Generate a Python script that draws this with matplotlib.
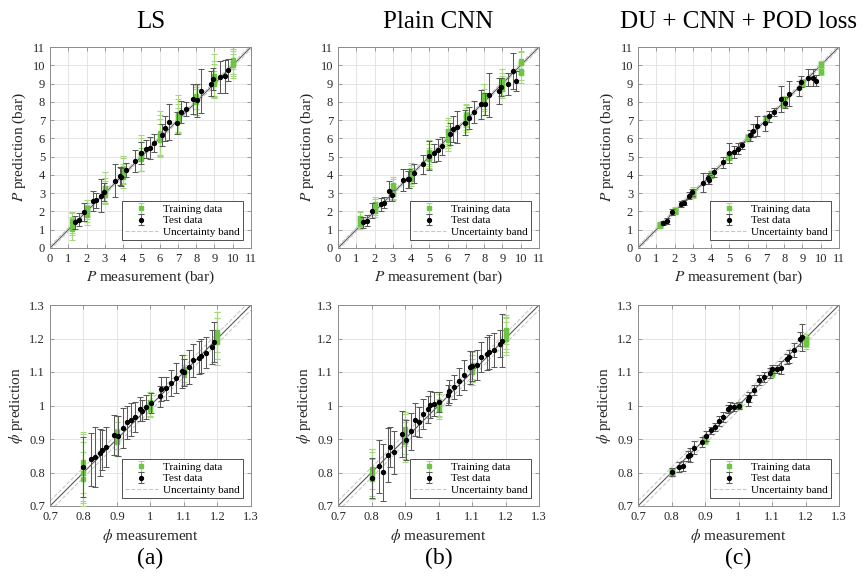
import numpy as np
import matplotlib.pyplot as plt
from matplotlib.ticker import FormatStrFormatter
from matplotlib.lines import Line2D

plt.rcParams["font.family"] = "serif"
plt.rcParams["font.serif"] = ["Liberation Serif", "DejaVu Serif"]
plt.rcParams["mathtext.fontset"] = "stix"

TITLES = ["LS", "Plain CNN", "DU + CNN + POD loss"]
TAGS = ["(a)", "(b)", "(c)"]

# ---------------- pressure P (bar) ----------------
P_TEST_X = [1.35, 1.58, 1.85, 2.33, 2.54, 2.77, 2.98, 3.53, 3.85, 3.91,
            4.15, 4.66, 4.98, 5.27, 5.47, 5.67, 6.15, 6.30, 6.51, 6.97,
            7.18, 7.47, 7.84, 8.04, 8.27, 8.80, 8.92, 9.33, 9.55, 9.75]

P_TEST_Y_LS = [1.40, 1.55, 1.98, 2.58, 2.60, 2.85, 3.05, 3.69, 3.96, 3.87,
               4.27, 4.78, 5.18, 5.42, 5.49, 5.73, 6.18, 6.55, 6.89, 6.82,
               7.44, 7.60, 8.15, 8.09, 8.58, 9.00, 9.24, 9.36, 9.40, 9.73]
P_TEST_E_LS = [0.35, 0.35, 0.50, 0.56, 0.40, 0.90, 0.50, 0.90, 0.50, 0.50,
               0.40, 0.60, 0.60, 0.50, 0.60, 0.50, 0.60, 0.70, 1.00, 0.60,
               0.60, 0.40, 0.80, 0.90, 1.20, 0.70, 0.60, 0.90, 0.90, 0.60]

P_TEST_Y_CNN = [1.41, 1.50, 2.05, 2.39, 2.47, 3.14, 2.89, 3.73, 3.75, 3.80,
                4.08, 4.57, 5.06, 5.21, 5.37, 5.58, 6.22, 6.51, 6.62, 6.86,
                7.09, 7.46, 7.86, 7.90, 8.39, 8.59, 8.81, 8.96, 9.69, 9.14]
P_TEST_E_CNN = [0.30, 0.30, 0.40, 0.35, 0.30, 0.55, 0.30, 0.60, 0.45, 0.50,
                0.50, 0.50, 0.80, 0.50, 0.60, 0.50, 0.60, 0.70, 0.90, 0.70,
                0.60, 0.60, 0.80, 0.60, 1.20, 0.70, 0.50, 0.60, 1.00, 0.55]

P_TEST_Y_POD = [1.36, 1.49, 1.98, 2.42, 2.49, 2.87, 3.04, 3.58, 3.82, 3.73,
                4.15, 4.69, 5.18, 5.25, 5.42, 5.62, 6.16, 6.42, 6.67, 6.82,
                7.22, 7.45, 8.15, 7.96, 8.45, 8.73, 9.09, 9.33, 9.33, 9.15]
P_TEST_E_POD = [0.12, 0.15, 0.15, 0.15, 0.15, 0.20, 0.20, 0.50, 0.30, 0.25,
                0.25, 0.30, 0.55, 0.35, 0.30, 0.20, 0.30, 0.35, 0.55, 0.40,
                0.30, 0.20, 0.70, 0.30, 0.70, 0.40, 0.30, 0.45, 0.45, 0.30]

P_TRAIN_X = [1.2, 2, 3, 4, 5, 6, 7, 8, 9, 10]

P_TRAIN_Y_LS = [[1.05, 1.20, 1.35, 1.50], [1.80, 1.95, 2.10, 2.20],
                [2.90, 3.05, 3.15, 3.30], [3.90, 4.05, 4.20, 4.30],
                [4.85, 5.00, 5.10, 5.20], [5.90, 6.05, 6.20, 6.30],
                [6.95, 7.10, 7.25, 7.35], [8.00, 8.10, 8.20, 8.30],
                [9.00, 9.15, 9.25, 9.40], [10.00, 10.10, 10.20, 10.30]]
P_TRAIN_E_LS = [[0.60, 0.50, 0.55, 0.45], [0.55, 0.50, 0.50, 0.45],
                [0.50, 0.60, 0.70, 0.85], [0.60, 0.55, 0.70, 0.75],
                [0.65, 0.80, 0.90, 1.00], [0.90, 1.00, 1.10, 1.20],
                [0.70, 0.80, 0.90, 1.00], [0.70, 0.80, 0.60, 0.70],
                [0.70, 0.90, 1.00, 1.20], [0.60, 0.80, 0.70, 0.50]]

P_TRAIN_Y_CNN = [[1.30, 1.45, 1.60, 1.65], [2.00, 2.15, 2.30, 2.40],
                 [2.95, 3.10, 3.30, 3.45], [3.80, 3.95, 4.05, 4.15],
                 [4.85, 4.95, 5.10, 5.25], [5.90, 6.10, 6.30, 6.40],
                 [6.90, 7.05, 7.20, 7.30], [7.90, 8.10, 8.30, 8.40],
                 [8.70, 8.85, 9.00, 9.20], [9.55, 9.70, 10.10, 10.25]]
P_TRAIN_E_CNN = [[0.25, 0.30, 0.35, 0.40], [0.30, 0.35, 0.40, 0.40],
                 [0.35, 0.40, 0.45, 0.45], [0.40, 0.45, 0.50, 0.50],
                 [0.50, 0.55, 0.60, 0.65], [0.60, 0.60, 0.70, 0.70],
                 [0.55, 0.60, 0.60, 0.60], [0.60, 0.60, 0.70, 0.60],
                 [0.50, 0.55, 0.60, 0.60], [0.50, 0.50, 0.60, 0.55]]

P_TRAIN_Y_POD = [[1.20, 1.25, 1.28, 1.32], [1.95, 2.00, 2.05, 2.08],
                 [2.90, 2.98, 3.05, 3.12], [3.95, 4.00, 4.05, 4.08],
                 [4.95, 5.00, 5.05, 5.10], [5.95, 6.00, 6.05, 6.10],
                 [6.98, 7.03, 7.08, 7.12], [7.85, 7.95, 8.05, 8.10],
                 [8.95, 9.00, 9.05, 9.10], [9.65, 9.70, 10.00, 10.08]]
P_TRAIN_E_POD = [[0.08, 0.10, 0.10, 0.12], [0.10, 0.12, 0.12, 0.15],
                 [0.15, 0.20, 0.20, 0.20], [0.10, 0.12, 0.15, 0.15],
                 [0.12, 0.15, 0.15, 0.15], [0.12, 0.15, 0.15, 0.15],
                 [0.10, 0.12, 0.15, 0.15], [0.15, 0.20, 0.20, 0.20],
                 [0.12, 0.15, 0.15, 0.15], [0.20, 0.20, 0.15, 0.15]]

P_TICKS = list(range(0, 12))
P_BAND = 0.1

# ---------------- equivalence ratio phi ----------------
F_TEST_X = [0.800, 0.821, 0.834, 0.849, 0.855, 0.868, 0.891, 0.902, 0.917, 0.930,
            0.942, 0.953, 0.970, 0.975, 0.988, 1.002, 1.027, 1.032, 1.046, 1.061,
            1.076, 1.094, 1.101, 1.114, 1.127, 1.144, 1.151, 1.166, 1.185, 1.191]

F_TEST_Y_LS = [0.816, 0.839, 0.846, 0.859, 0.866, 0.877, 0.913, 0.910, 0.933, 0.950,
               0.958, 0.966, 0.990, 0.985, 0.995, 1.008, 1.027, 1.049, 1.051, 1.067,
               1.082, 1.102, 1.099, 1.115, 1.135, 1.143, 1.148, 1.158, 1.174, 1.189]
F_TEST_E_LS = [0.090, 0.080, 0.090, 0.070, 0.060, 0.060, 0.060, 0.060, 0.060, 0.050,
               0.050, 0.045, 0.035, 0.030, 0.035, 0.030, 0.030, 0.035, 0.035, 0.040,
               0.045, 0.050, 0.040, 0.050, 0.050, 0.050, 0.050, 0.045, 0.050, 0.060]

F_TEST_Y_CNN = [0.783, 0.818, 0.801, 0.853, 0.875, 0.860, 0.915, 0.896, 0.923, 0.958,
                0.952, 0.974, 0.989, 1.002, 1.005, 1.011, 1.031, 1.042, 1.055, 1.072,
                1.091, 1.114, 1.117, 1.122, 1.146, 1.155, 1.160, 1.165, 1.185, 1.194]
F_TEST_E_CNN = [0.060, 0.080, 0.085, 0.080, 0.060, 0.065, 0.070, 0.060, 0.055, 0.050,
                0.045, 0.045, 0.040, 0.040, 0.035, 0.030, 0.030, 0.035, 0.035, 0.040,
                0.045, 0.050, 0.045, 0.045, 0.045, 0.050, 0.050, 0.050, 0.040, 0.080]

F_TEST_Y_POD = [0.801, 0.816, 0.819, 0.849, 0.852, 0.874, 0.891, 0.910, 0.926, 0.935,
                0.953, 0.965, 0.990, 0.995, 0.996, 1.000, 1.015, 1.025, 1.045, 1.075,
                1.085, 1.097, 1.110, 1.110, 1.113, 1.138, 1.146, 1.166, 1.198, 1.203]
F_TEST_E_POD = [0.012, 0.015, 0.015, 0.015, 0.020, 0.020, 0.015, 0.015, 0.010, 0.012,
                0.015, 0.015, 0.012, 0.015, 0.012, 0.010, 0.015, 0.015, 0.015, 0.015,
                0.015, 0.015, 0.012, 0.012, 0.020, 0.015, 0.020, 0.020, 0.020, 0.040]

F_TRAIN_X = [0.8, 0.9, 1.0, 1.1, 1.2]

F_TRAIN_Y_LS = [[0.780, 0.800, 0.815, 0.830], [0.890, 0.900, 0.910, 0.920],
                [0.990, 1.000, 1.005, 1.010], [1.090, 1.100, 1.105, 1.110],
                [1.190, 1.200, 1.210, 1.220]]
F_TRAIN_E_LS = [[0.080, 0.090, 0.100, 0.090], [0.040, 0.050, 0.060, 0.050],
                [0.025, 0.030, 0.035, 0.030], [0.030, 0.040, 0.045, 0.040],
                [0.070, 0.060, 0.070, 0.060]]

F_TRAIN_Y_CNN = [[0.780, 0.790, 0.800, 0.810], [0.890, 0.900, 0.915, 0.930],
                 [0.990, 1.000, 1.005, 1.010], [1.100, 1.105, 1.110, 1.120],
                 [1.200, 1.210, 1.220, 1.225]]
F_TRAIN_E_CNN = [[0.060, 0.070, 0.070, 0.060], [0.060, 0.060, 0.060, 0.050],
                 [0.030, 0.035, 0.035, 0.030], [0.040, 0.045, 0.040, 0.040],
                 [0.050, 0.050, 0.050, 0.040]]

F_TRAIN_Y_POD = [[0.797, 0.800, 0.803, 0.805], [0.893, 0.897, 0.900, 0.903],
                 [0.997, 1.000, 1.002, 1.005], [1.095, 1.100, 1.102, 1.105],
                 [1.185, 1.190, 1.195, 1.200]]
F_TRAIN_E_POD = [[0.008, 0.010, 0.010, 0.008], [0.008, 0.010, 0.010, 0.010],
                 [0.006, 0.008, 0.008, 0.006], [0.010, 0.010, 0.012, 0.010],
                 [0.015, 0.015, 0.012, 0.012]]

F_TICKS = [0.7, 0.8, 0.9, 1.0, 1.1, 1.2, 1.3]
F_BAND = 0.015

# ---------------- styling ----------------
GREEN = "#6cc644"
LIGHT_GREEN = "#a3d97c"
TEST_BAR = "#5a5a5a"
AX_COLOR = "#8c8c8c"
GRID_COLOR = "#e4e4e4"
TEXT_COLOR = "#262626"


def draw_panel(ax, tr_x, tr_y, tr_e, te_x, te_y, te_e, ticks, band, qty):
    lo, hi = ticks[0], ticks[-1]
    xs = np.repeat(tr_x, len(tr_y[0]))
    h_train = ax.errorbar(xs, np.ravel(tr_y), yerr=np.ravel(tr_e), fmt="s", ms=3.5,
                          mfc=GREEN, mec=GREEN, ecolor=LIGHT_GREEN, elinewidth=0.8,
                          capsize=2.5, capthick=0.8, zorder=3)
    h_test = ax.errorbar(te_x, te_y, yerr=te_e, fmt="o", ms=2.8, mfc="k", mec="k",
                         ecolor=TEST_BAR, elinewidth=0.75, capsize=2.5, capthick=0.75,
                         zorder=4)
    line = np.array([lo, hi])
    ax.plot(line, line, color="#595959", lw=0.8, zorder=2)
    ax.plot(line, line + band, ls="--", color="#c8c8c8", lw=0.8, zorder=2)
    ax.plot(line, line - band, ls="--", color="#c8c8c8", lw=0.8, zorder=2)
    h_band = Line2D([], [], ls="--", color="#c8c8c8", lw=0.8)

    ax.set_xlim(lo, hi)
    ax.set_ylim(lo, hi)
    ax.set_xticks(ticks)
    ax.set_yticks(ticks)
    ax.xaxis.set_major_formatter(FormatStrFormatter("%g"))
    ax.yaxis.set_major_formatter(FormatStrFormatter("%g"))
    ax.grid(True, color=GRID_COLOR, lw=0.7)
    ax.set_axisbelow(True)
    ax.tick_params(direction="in", length=3, width=0.6, colors=AX_COLOR,
                   labelcolor=TEXT_COLOR, labelsize=9, top=True, right=True)
    for s in ax.spines.values():
        s.set_color(AX_COLOR)
        s.set_linewidth(0.7)
    if qty == "P":
        ax.set_xlabel("$P$ measurement (bar)", fontsize=11, color=TEXT_COLOR, labelpad=3)
        ax.set_ylabel("$P$ prediction (bar)", fontsize=11, color=TEXT_COLOR, labelpad=3)
    else:
        ax.set_xlabel(r"$\phi$ measurement", fontsize=11, color=TEXT_COLOR, labelpad=3)
        ax.set_ylabel(r"$\phi$ prediction", fontsize=11, color=TEXT_COLOR, labelpad=3)
    leg = ax.legend([h_train, h_test, h_band],
                    ["Training data", "Test data", "Uncertainty band"],
                    loc="lower right", fontsize=8, handlelength=2.9, handletextpad=0.5,
                    borderpad=0.3, labelspacing=0.15, borderaxespad=0.7,
                    fancybox=False, framealpha=1)
    leg.get_frame().set_edgecolor("#333333")
    leg.get_frame().set_linewidth(0.6)


fig = plt.figure(figsize=(8.64, 5.86), dpi=100)

lefts = [50 / 864, 338 / 864, 638 / 864]
size_w = 201 / 864
size_h = 201 / 586
top_bottom = (586 - 248) / 586
low_bottom = (586 - 506) / 586

p_sets = [(P_TRAIN_Y_LS, P_TRAIN_E_LS, P_TEST_Y_LS, P_TEST_E_LS),
          (P_TRAIN_Y_CNN, P_TRAIN_E_CNN, P_TEST_Y_CNN, P_TEST_E_CNN),
          (P_TRAIN_Y_POD, P_TRAIN_E_POD, P_TEST_Y_POD, P_TEST_E_POD)]
f_sets = [(F_TRAIN_Y_LS, F_TRAIN_E_LS, F_TEST_Y_LS, F_TEST_E_LS),
          (F_TRAIN_Y_CNN, F_TRAIN_E_CNN, F_TEST_Y_CNN, F_TEST_E_CNN),
          (F_TRAIN_Y_POD, F_TRAIN_E_POD, F_TEST_Y_POD, F_TEST_E_POD)]

for i in range(3):
    ax_p = fig.add_axes([lefts[i], top_bottom, size_w, size_h])
    ty, te, sy, se = p_sets[i]
    draw_panel(ax_p, P_TRAIN_X, ty, te, P_TEST_X, sy, se, P_TICKS, P_BAND, "P")
    ax_p.set_title(TITLES[i], fontsize=18, pad=14)

    ax_f = fig.add_axes([lefts[i], low_bottom, size_w, size_h])
    ty, te, sy, se = f_sets[i]
    draw_panel(ax_f, F_TRAIN_X, ty, te, F_TEST_X, sy, se, F_TICKS, F_BAND, "phi")

    fig.text(lefts[i] + size_w / 2, 1 - 558 / 586, TAGS[i], ha="center", va="center",
             fontsize=17)

fig.savefig("out.png", dpi=100)
